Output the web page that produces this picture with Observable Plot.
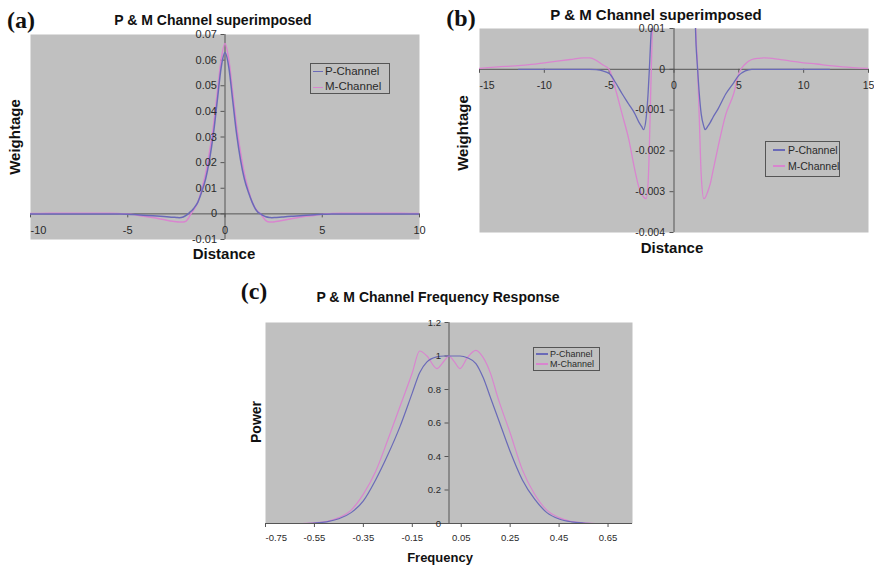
<!DOCTYPE html>
<html><head><meta charset="utf-8">
<script src="https://cdn.jsdelivr.net/npm/d3@7"></script>
<script src="https://cdn.jsdelivr.net/npm/@observablehq/plot@0.6"></script>
<style>
body{margin:0;background:#fff;}
#root{position:relative;width:874px;height:566px;overflow:hidden;background:#fff;}
#root svg{position:absolute;}
</style></head><body><div id="root"></div>
<script>
// ---- Data: spatial weighting (panels a & b) ----
const distance = [-15,-13,-12,-11,-10,-9,-8,-7,-6.5,-6,-5.5,-5,-4.5,-4,-3.5,-3,-2.7,-2.5,-2.35,-2.15,-2.0,-1.9,-1.8,-1.7,-1.6,-1.4,-1.2,-1.0,-0.8,-0.6,-0.4,-0.2,0,0.2,0.4,0.6,0.8,1.0,1.2,1.4,1.6,1.7,1.8,1.95,2.1,2.3,2.4,2.6,2.8,3.0,3.4,4.0,4.6,5.0,5.5,6.0,6.5,7,8,9,10,11,12,13,15];
const pWeight = [null,null,0,0,0,0,0,0,0,-0.00001,-0.00004,-0.0001,-0.00033,-0.0006,-0.00085,-0.0011,-0.0013,-0.0014,-0.00148,-0.0012,-0.0006,0,0.0007,0.0013,0.0022,0.0045,0.0085,0.0135,0.021,0.031,0.044,0.057,0.063,0.057,0.044,0.031,0.021,0.0135,0.0085,0.0045,0.0015,0.0006,0.0001,-0.0006,-0.0011,-0.0014,-0.00148,-0.0014,-0.0013,-0.00118,-0.00097,-0.0006,-0.00033,-0.00015,-0.00004,0,0,0,0,0,0,0,0,null,null];
const mWeight = [0.00002,0.00007,0.00009,0.00012,0.00016,0.0002,0.00024,0.00028,0.00028,0.00022,0.00011,0,-0.0005,-0.0011,-0.0017,-0.0025,-0.0029,-0.00305,-0.00313,-0.00317,-0.0028,-0.0019,-0.0006,0.0006,0.0017,0.0045,0.0095,0.0155,0.024,0.034,0.047,0.06,0.0665,0.06,0.047,0.034,0.024,0.0155,0.0095,0.0045,0.0017,0.0008,0.0002,-0.0012,-0.0026,-0.00317,-0.00315,-0.003,-0.0028,-0.0025,-0.0019,-0.0011,-0.0006,-0.0001,0.00013,0.00024,0.00027,0.00028,0.00025,0.0002,0.00016,0.00013,0.00009,0.00006,0.00002];

// ---- Data: frequency response (panel c) ----
const frequency = [-0.6,-0.55,-0.5,-0.45,-0.4,-0.35,-0.3,-0.25,-0.2,-0.15,-0.12,-0.09,-0.05,-0.02,0,0.02,0.045,0.075,0.11,0.14,0.17,0.2,0.25,0.3,0.35,0.4,0.45,0.5,0.55,0.6];
const pPower = [0,0.003,0.01,0.028,0.065,0.135,0.26,0.41,0.58,0.78,0.9,0.965,0.995,1.0,1.0,1.0,1.0,0.99,0.955,0.87,0.75,0.63,0.43,0.26,0.145,0.065,0.027,0.01,0.003,0];
const mPower = [0,0.004,0.012,0.035,0.08,0.175,0.31,0.5,0.7,0.9,1.03,1.0,0.925,0.97,1.0,0.97,0.925,0.99,1.034,0.99,0.895,0.75,0.54,0.32,0.175,0.08,0.035,0.012,0.004,0];

// ---- Ticks ----
const aXTicks = [-10,-5,0,5,10];
const aXLabels = ["-10","-5","0","5","10"];
const aYTicks = [-0.01,0,0.01,0.02,0.03,0.04,0.05,0.06,0.07];
const aYLabels = ["-0.01","0","0.01","0.02","0.03","0.04","0.05","0.06","0.07"];
const bXTicks = [-15,-10,-5,0,5,10,15];
const bXLabels = ["-15","-10","-5","0","5","10","15"];
const bYTicks = [-0.004,-0.003,-0.002,-0.001,0,0.001];
const bYLabels = ["-0.004","-0.003","-0.002","-0.001","0","0.001"];
const cXTicks = [-0.75,-0.55,-0.35,-0.15,0.05,0.25,0.45,0.65];
const cXLabels = ["-0.75","-0.55","-0.35","-0.15","0.05","0.25","0.45","0.65"];
const cYTicks = [0,0.2,0.4,0.6,0.8,1,1.2];
const cYLabels = ["0","0.2","0.4","0.6","0.8","1","1.2"];
const seriesNames = ["P-Channel","M-Channel"];

const P_COLOR = "#6a6ab8", M_COLOR = "#d985cf";
const BG = "#c0c0c0", AX = "#555", TXT = "#2a2a2a";
const FONT = "'Liberation Sans', Arial, sans-serif";
const SERIF = "'Liberation Serif', 'Times New Roman', serif";

const spatial = distance.map((x, i) => ({x, p: pWeight[i], m: mWeight[i]}));
const spectral = frequency.map((x, i) => ({x, p: pPower[i], m: mPower[i]}));

const root = document.getElementById("root");

function panel(o) {
  const [mt, mr, mb, ml] = o.margins;
  const fs = o.fontSize;
  const svg = Plot.plot({
    width: o.width, height: o.height,
    marginTop: mt, marginRight: mr, marginBottom: mb, marginLeft: ml,
    x: {domain: o.xDomain, axis: null},
    y: {domain: o.yDomain, axis: null},
    style: {background: "transparent", fontFamily: FONT, fontSize: fs + "px", color: TXT, overflow: "visible"},
    marks: [
      Plot.frame({fill: BG, stroke: null}),
      Plot.ruleY([0], {stroke: AX, strokeWidth: 1}),
      Plot.ruleX([0], {stroke: AX, strokeWidth: 1}),
      Plot.ruleX(o.xTicks, {x: d => d, y1: 0, y2: 0, insetTop: 0, insetBottom: -4, stroke: AX}),
      Plot.ruleY(o.yTicks, {y: d => d, x1: 0, x2: 0, insetLeft: 0, insetRight: 4, stroke: AX}),
      Plot.line(o.data, {x: "x", y: "m", stroke: M_COLOR, strokeWidth: o.sw, curve: "monotone-x", clip: true}),
      Plot.line(o.data, {x: "x", y: "p", stroke: P_COLOR, strokeWidth: o.sw, curve: "monotone-x", clip: true}),
      Plot.text(o.xTicks.slice(0, 1), {x: d => d, y: 0, text: () => o.xLabels[0], dy: o.xDy, textAnchor: "start", fill: TXT, fontSize: fs}),
      Plot.text(o.xTicks.slice(1), {x: d => d, y: 0, text: (d, i) => o.xLabels[i + 1], dy: o.xDy, fill: TXT, fontSize: fs}),
      Plot.text(o.yTicks, {x: 0, y: d => d, text: (d, i) => o.yLabels[i], dx: o.yDx, textAnchor: "end", fill: TXT, fontSize: fs})
    ]
  });
  svg.style.left = o.left + "px";
  svg.style.top = o.top + "px";
  root.appendChild(svg);
}

panel({left: 0, top: 0, width: 440, height: 270, margins: [34, 21, 31, 30],
  xDomain: [-10, 10], yDomain: [-0.01, 0.07], xTicks: aXTicks, xLabels: aXLabels,
  yTicks: aYTicks, yLabels: aYLabels, data: spatial, fontSize: 11, xDy: 17, yDx: -8, sw: 1.5});
panel({left: 440, top: 0, width: 434, height: 270, margins: [28, 6, 38, 39],
  xDomain: [-15, 15], yDomain: [-0.004, 0.001], xTicks: bXTicks, xLabels: bXLabels,
  yTicks: bYTicks, yLabels: bYLabels, data: spatial, fontSize: 10.5, xDy: 16, yDx: -9, sw: 1.3});
panel({left: 250, top: 280, width: 400, height: 286, margins: [42, 18, 43, 15],
  xDomain: [-0.75, 0.75], yDomain: [0, 1.2], xTicks: cXTicks, xLabels: cXLabels,
  yTicks: cYTicks, yLabels: cYLabels, data: spectral, fontSize: 9.5, xDy: 14, yDx: -8, sw: 1.2});

function txt(s, cx, cy, size, o = {}) {
  const d = document.createElement("div");
  d.textContent = s;
  d.style.cssText = `position:absolute;left:${cx}px;top:${cy}px;font-size:${size}px;line-height:1;white-space:nowrap;` +
    `transform:translate(-50%,-50%)${o.rotate ? " rotate(-90deg)" : ""};font-weight:${o.bold ? "bold" : "normal"};` +
    `font-family:${o.serif ? SERIF : FONT};color:${o.color || "#111"}`;
  root.appendChild(d);
}

// panel letters
txt("(a)", 21, 20, 24, {bold: true, serif: true});
txt("(b)", 461, 18, 24, {bold: true, serif: true});
txt("(c)", 254, 291, 24, {bold: true, serif: true});
// titles
txt("P & M Channel superimposed", 213, 20, 14, {bold: true});
txt("P & M Channel superimposed", 656, 14, 15, {bold: true});
txt("P & M Channel Frequency Response", 438, 297, 14, {bold: true});
// axis titles
txt("Distance", 224, 253, 15, {bold: true});
txt("Weightage", 14, 137, 15, {bold: true, rotate: true});
txt("Distance", 672, 247, 15, {bold: true});
txt("Weightage", 462, 133, 15, {bold: true, rotate: true});
txt("Frequency", 440, 557, 13, {bold: true});
txt("Power", 256, 422, 14, {bold: true, rotate: true});

function legend(x, y, w, h, size, rowsY, sx, slen, tx) {
  const box = document.createElement("div");
  box.style.cssText = `position:absolute;left:${x}px;top:${y}px;width:${w}px;height:${h}px;box-sizing:border-box;border:1px solid #555;`;
  root.appendChild(box);
  const colors = [P_COLOR, M_COLOR];
  seriesNames.forEach((name, i) => {
    const ln = document.createElement("div");
    ln.style.cssText = `position:absolute;left:${sx}px;top:${rowsY[i] - 0.75}px;width:${slen}px;height:1.5px;background:${colors[i]};`;
    root.appendChild(ln);
    const t = document.createElement("div");
    t.textContent = name;
    t.style.cssText = `position:absolute;left:${tx}px;top:${rowsY[i]}px;transform:translateY(-50%);font-size:${size}px;line-height:1;white-space:nowrap;font-family:${FONT};color:${TXT};`;
    root.appendChild(t);
  });
}
legend(310, 63, 80, 31, 11.5, [71.7, 87.3], 313, 10, 325);
legend(765, 141, 75, 36, 10.5, [150, 166], 773, 12, 788);
legend(533, 347, 67, 24, 9, [354, 364], 536, 12, 550);
</script></body></html>
